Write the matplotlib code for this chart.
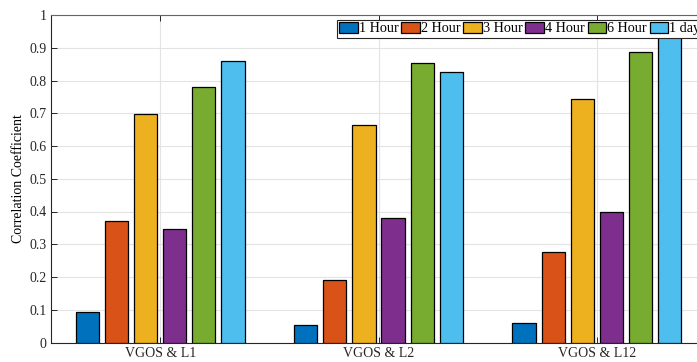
import matplotlib
matplotlib.use("Agg")
import matplotlib.pyplot as plt
import numpy as np

# correlation coefficients per pair and averaging window
pairs = ["VGOS & L1", "VGOS & L2", "VGOS & L12"]
windows = ["1 Hour", "2 Hour", "3 Hour", "4 Hour", "6 Hour", "1 day"]
hour_1 = [0.092, 0.054, 0.059]
hour_2 = [0.370, 0.190, 0.276]
hour_3 = [0.698, 0.665, 0.745]
hour_4 = [0.347, 0.379, 0.398]
hour_6 = [0.781, 0.852, 0.888]
day_1 = [0.860, 0.827, 0.940]

series = [hour_1, hour_2, hour_3, hour_4, hour_6, day_1]
colors = ["#0072BD", "#D95319", "#EDB120", "#7E2F8E", "#77AC30", "#4DBEEE"]

plt.rcParams["font.family"] = ["Liberation Serif", "DejaVu Serif"]
plt.rcParams["font.size"] = 10

fig = plt.figure(figsize=(6.97, 3.62), dpi=100)
ax = fig.add_axes([51 / 697, 19.5 / 362, 655 / 697, 327.5 / 362])

x = np.arange(1, len(pairs) + 1)
n = len(series)
pitch = 0.8 / n
for i, (vals, c, lab) in enumerate(zip(series, colors, windows)):
    offs = -0.4 + pitch / 2 + i * pitch
    ax.bar(x + offs, vals, width=pitch * 0.8, color=c, edgecolor="black",
           linewidth=0.9, label=lab, zorder=3)

ax.set_xlim(0.5, 3.5)
ax.set_ylim(0, 1)
ax.set_xticks(x)
ax.set_xticklabels(pairs)
ax.set_yticks(np.arange(0, 1.01, 0.1))
ax.set_yticklabels(["0"] + [f"{v:.1f}" for v in np.arange(0.1, 0.95, 0.1)] + ["1"])
ax.set_ylabel("Correlation Coefficient", labelpad=3)
ax.grid(True, color="#e3e3e3", linewidth=0.8, zorder=0)
ax.tick_params(direction="in", length=4, width=0.7, colors="#262626",
               top=True, right=True, labelcolor="#262626", pad=3)
for s in ax.spines.values():
    s.set_color("#262626")
    s.set_linewidth(0.8)
ax.spines["top"].set_color("#666666")

leg = ax.legend(loc="upper left", bbox_to_anchor=(337 / 697, 1 - 20 / 362),
                bbox_transform=fig.transFigure, ncol=n, frameon=True,
                fancybox=False, framealpha=1, edgecolor="#262626",
                handlelength=1.3, handleheight=0.8, handletextpad=0.08,
                columnspacing=0.2, borderpad=0.15, borderaxespad=0,
                fontsize=10.2)
leg.get_frame().set_linewidth(0.8)
leg.set_zorder(5)

fig.savefig("out.png", dpi=100)
